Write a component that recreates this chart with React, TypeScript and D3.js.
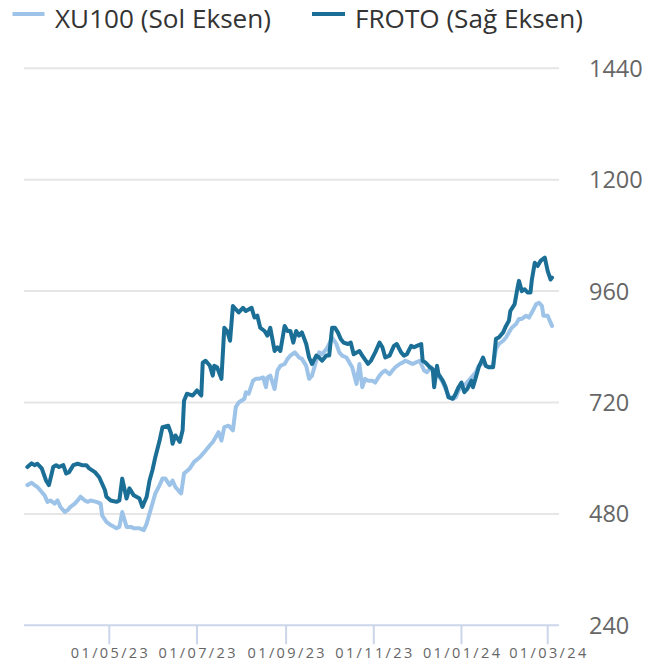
import React from "react";
import * as d3 from "d3";

// ---- Data (on the visible right-hand scale) ----
const frotoDates = [
  "2023-03-05","2023-03-08","2023-03-10","2023-03-12","2023-03-15","2023-03-18","2023-03-20","2023-03-23","2023-03-25","2023-03-27",
  "2023-03-30","2023-04-01","2023-04-03","2023-04-06","2023-04-09","2023-04-12","2023-04-15","2023-04-17","2023-04-21","2023-04-24",
  "2023-04-26","2023-04-28","2023-04-29","2023-05-02","2023-05-06","2023-05-08","2023-05-10","2023-05-13","2023-05-15","2023-05-18",
  "2023-05-22","2023-05-24","2023-05-27","2023-05-29","2023-05-31","2023-06-02","2023-06-05","2023-06-07","2023-06-11","2023-06-13",
  "2023-06-14","2023-06-16","2023-06-19","2023-06-21","2023-06-22","2023-06-24","2023-06-28","2023-07-01","2023-07-04","2023-07-05",
  "2023-07-07","2023-07-10","2023-07-12","2023-07-13","2023-07-15","2023-07-18","2023-07-20","2023-07-22","2023-07-24","2023-07-26",
  "2023-07-28","2023-07-30","2023-08-02","2023-08-04","2023-08-08","2023-08-10","2023-08-12","2023-08-14","2023-08-17","2023-08-19",
  "2023-08-21","2023-08-24","2023-08-26","2023-08-28","2023-08-31","2023-09-02","2023-09-04","2023-09-06","2023-09-08","2023-09-10",
  "2023-09-12","2023-09-15","2023-09-17","2023-09-19","2023-09-22","2023-09-24","2023-09-26","2023-09-29","2023-10-01","2023-10-03",
  "2023-10-05","2023-10-07","2023-10-09","2023-10-11","2023-10-14","2023-10-16","2023-10-18","2023-10-22","2023-10-24","2023-10-28",
  "2023-10-30","2023-11-02","2023-11-05","2023-11-07","2023-11-09","2023-11-12","2023-11-15","2023-11-17","2023-11-20","2023-11-22",
  "2023-11-24","2023-11-27","2023-11-29","2023-12-01","2023-12-04","2023-12-05","2023-12-07","2023-12-10","2023-12-12","2023-12-13",
  "2023-12-15","2023-12-16","2023-12-19","2023-12-21","2023-12-23","2023-12-26","2023-12-28","2023-12-30","2024-01-01","2024-01-03",
  "2024-01-05","2024-01-08","2024-01-09","2024-01-11","2024-01-13","2024-01-16","2024-01-18","2024-01-20","2024-01-23","2024-01-25",
  "2024-01-27","2024-01-30","2024-02-01","2024-02-03","2024-02-04","2024-02-07","2024-02-09","2024-02-10","2024-02-12","2024-02-14",
  "2024-02-16","2024-02-18","2024-02-19","2024-02-21","2024-02-23","2024-02-25","2024-02-28","2024-03-01","2024-03-03","2024-03-04",
];
const frotoValues = [
  581,589,585,588,578,552,542,581,585,581,
  585,567,570,585,588,585,585,578,570,559,
  545,531,517,509,506,509,556,513,535,520,
  513,495,517,552,574,602,638,667,670,653,
  631,649,635,660,724,739,735,746,735,806,
  810,799,778,799,796,771,881,874,853,928,
  921,914,924,917,924,903,907,881,874,864,
  881,831,839,831,885,874,874,849,874,864,
  871,846,817,803,821,817,810,821,821,881,
  881,871,857,849,846,849,824,831,821,803,
  810,828,849,839,817,821,842,846,828,821,
  824,842,839,842,846,810,806,796,792,753,
  799,781,767,753,731,728,739,753,763,742,
  749,767,753,774,796,817,799,796,796,857,
  860,871,885,896,917,932,967,982,960,964,
  957,957,985,1021,1014,1025,1032,1003,985,989,
];

const xu100Dates = [
  "2023-03-05","2023-03-08","2023-03-10","2023-03-12","2023-03-15","2023-03-17","2023-03-19","2023-03-21","2023-03-24","2023-03-26",
  "2023-03-28","2023-03-31","2023-04-02","2023-04-04","2023-04-07","2023-04-09","2023-04-11","2023-04-14","2023-04-16","2023-04-18",
  "2023-04-22","2023-04-25","2023-04-26","2023-04-29","2023-05-02","2023-05-06","2023-05-08","2023-05-10","2023-05-13","2023-05-16",
  "2023-05-18","2023-05-22","2023-05-25","2023-05-27","2023-05-29","2023-05-31","2023-06-02","2023-06-05","2023-06-07","2023-06-09",
  "2023-06-12","2023-06-14","2023-06-16","2023-06-19","2023-06-20","2023-06-22","2023-06-26","2023-06-29","2023-07-03","2023-07-06",
  "2023-07-10","2023-07-12","2023-07-14","2023-07-16","2023-07-18","2023-07-20","2023-07-23","2023-07-26","2023-07-28","2023-07-30",
  "2023-08-03","2023-08-04","2023-08-06","2023-08-09","2023-08-11","2023-08-13","2023-08-16","2023-08-18","2023-08-19","2023-08-21",
  "2023-08-24","2023-08-26","2023-08-28","2023-08-31","2023-09-02","2023-09-04","2023-09-07","2023-09-09","2023-09-10","2023-09-12",
  "2023-09-15","2023-09-17","2023-09-19","2023-09-22","2023-09-24","2023-09-26","2023-09-29","2023-10-01","2023-10-03","2023-10-06",
  "2023-10-08","2023-10-10","2023-10-13","2023-10-15","2023-10-17","2023-10-20","2023-10-22","2023-10-24","2023-10-26","2023-10-28",
  "2023-10-31","2023-11-02","2023-11-05","2023-11-07","2023-11-09","2023-11-12","2023-11-14","2023-11-16","2023-11-19","2023-11-21",
  "2023-11-23","2023-11-26","2023-11-28","2023-11-30","2023-12-03","2023-12-06","2023-12-08","2023-12-11","2023-12-13","2023-12-17",
  "2023-12-19","2023-12-21","2023-12-23","2023-12-26","2023-12-28","2023-12-30","2024-01-02","2024-01-04","2024-01-06","2024-01-09",
  "2024-01-11","2024-01-13","2024-01-16","2024-01-18","2024-01-20","2024-01-23","2024-01-25","2024-01-27","2024-01-30","2024-02-01",
  "2024-02-03","2024-02-05","2024-02-08","2024-02-10","2024-02-12","2024-02-15","2024-02-17","2024-02-19","2024-02-22","2024-02-24",
  "2024-02-26","2024-02-27","2024-03-01","2024-03-03","2024-03-04",
];
const xu100Values = [
  542,547,542,538,527,520,506,509,502,509,
  495,484,488,495,502,509,517,509,506,509,
  506,502,477,463,456,449,452,484,452,452,
  449,449,445,459,481,502,524,542,556,556,
  542,552,538,527,524,567,578,592,602,613,
  628,635,645,656,638,667,670,660,710,720,
  728,742,739,767,771,771,774,753,774,778,
  749,789,799,803,814,821,828,821,817,814,
  799,771,778,810,828,824,835,846,860,846,
  828,821,817,806,796,760,803,753,771,767,
  767,763,778,785,789,781,789,796,803,806,
  810,806,803,806,810,789,785,796,781,774,
  763,749,735,728,731,746,756,760,767,778,
  785,799,806,799,796,799,835,846,853,860,
  871,881,889,900,900,907,903,914,932,935,
  928,907,907,892,885,
];

const yTicks = [240, 480, 720, 960, 1200, 1440];
const xTickDates = ["2023-05-01", "2023-07-01", "2023-09-01", "2023-11-01", "2024-01-01", "2024-03-01"];
const legendLabels = ["XU100 (Sol Eksen)", "FROTO (Sağ Eksen)"];

// ---- Layout / style ----
const W = 657;
const H = 668;
const plotLeft = 24;
const plotRight = 559;
const COLOR_XU = "#9dc4e8";
const COLOR_FROTO = "#1b6f97";
const FONT = "'Open Sans', 'Noto Sans', sans-serif";

const parse = d3.utcParse("%Y-%m-%d");
const fmt = d3.utcFormat("%d/%m/%y");

export default function App() {
  const x = d3
    .scaleUtc()
    .domain([parse("2023-05-01")!, parse("2024-03-01")!])
    .range([109.3, 547.7]);
  const y = d3.scaleLinear().domain([240, 1440]).range([625.3, 68.3]);

  const froto = frotoDates.map((d, i) => ({ date: parse(d)!, value: frotoValues[i] }));
  const xu = xu100Dates.map((d, i) => ({ date: parse(d)!, value: xu100Values[i] }));

  const line = d3
    .line<{ date: Date; value: number }>()
    .x((d) => x(d.date))
    .y((d) => y(d.value));

  const axisY = y(240);

  return (
    <svg
      width={W}
      height={H}
      style={{ position: "absolute", left: 0, top: 0, background: "#fff" }}
      fontFamily={FONT}
    >
      {/* legend */}
      <g>
        <line x1={12.5} x2={44.5} y1={14} y2={14} stroke={COLOR_XU} strokeWidth={4} />
        <text x={55} y={27.5} fontSize={25.5} fill="#333" textLength={216} lengthAdjust="spacingAndGlyphs">
          {legendLabels[0]}
        </text>
        <line x1={312} x2={345} y1={14} y2={14} stroke={COLOR_FROTO} strokeWidth={4} />
        <text x={355} y={27.5} fontSize={25.5} fill="#333" textLength={228} lengthAdjust="spacingAndGlyphs">
          {legendLabels[1]}
        </text>
      </g>

      {/* gridlines */}
      {yTicks.slice(1).map((t) => (
        <line key={t} x1={plotLeft} x2={plotRight} y1={y(t)} y2={y(t)} stroke="#e6e6e6" strokeWidth={2} />
      ))}

      {/* y labels (right) */}
      {yTicks.map((t) => (
        <text key={"l" + t} x={589} y={y(t) + 8.5} fontSize={23.5} fill="#666">
          {t}
        </text>
      ))}

      {/* x axis */}
      <line x1={plotLeft} x2={plotRight} y1={axisY} y2={axisY} stroke="#ccd6eb" strokeWidth={2} />
      {xTickDates.map((s) => {
        const d = parse(s)!;
        const xx = x(d);
        return (
          <g key={s}>
            <line x1={xx} x2={xx} y1={axisY} y2={axisY + 19} stroke="#ccd6eb" strokeWidth={2} />
            <text
              x={xx - 38.5}
              y={658}
              fontSize={14.5}
              fill="#666"
              textLength={77}
              lengthAdjust="spacing"
            >
              {fmt(d)}
            </text>
          </g>
        );
      })}

      {/* series */}
      <path d={line(xu) || ""} fill="none" stroke={COLOR_XU} strokeWidth={4} strokeLinejoin="round" strokeLinecap="round" />
      <path d={line(froto) || ""} fill="none" stroke={COLOR_FROTO} strokeWidth={4} strokeLinejoin="round" strokeLinecap="round" />
    </svg>
  );
}
